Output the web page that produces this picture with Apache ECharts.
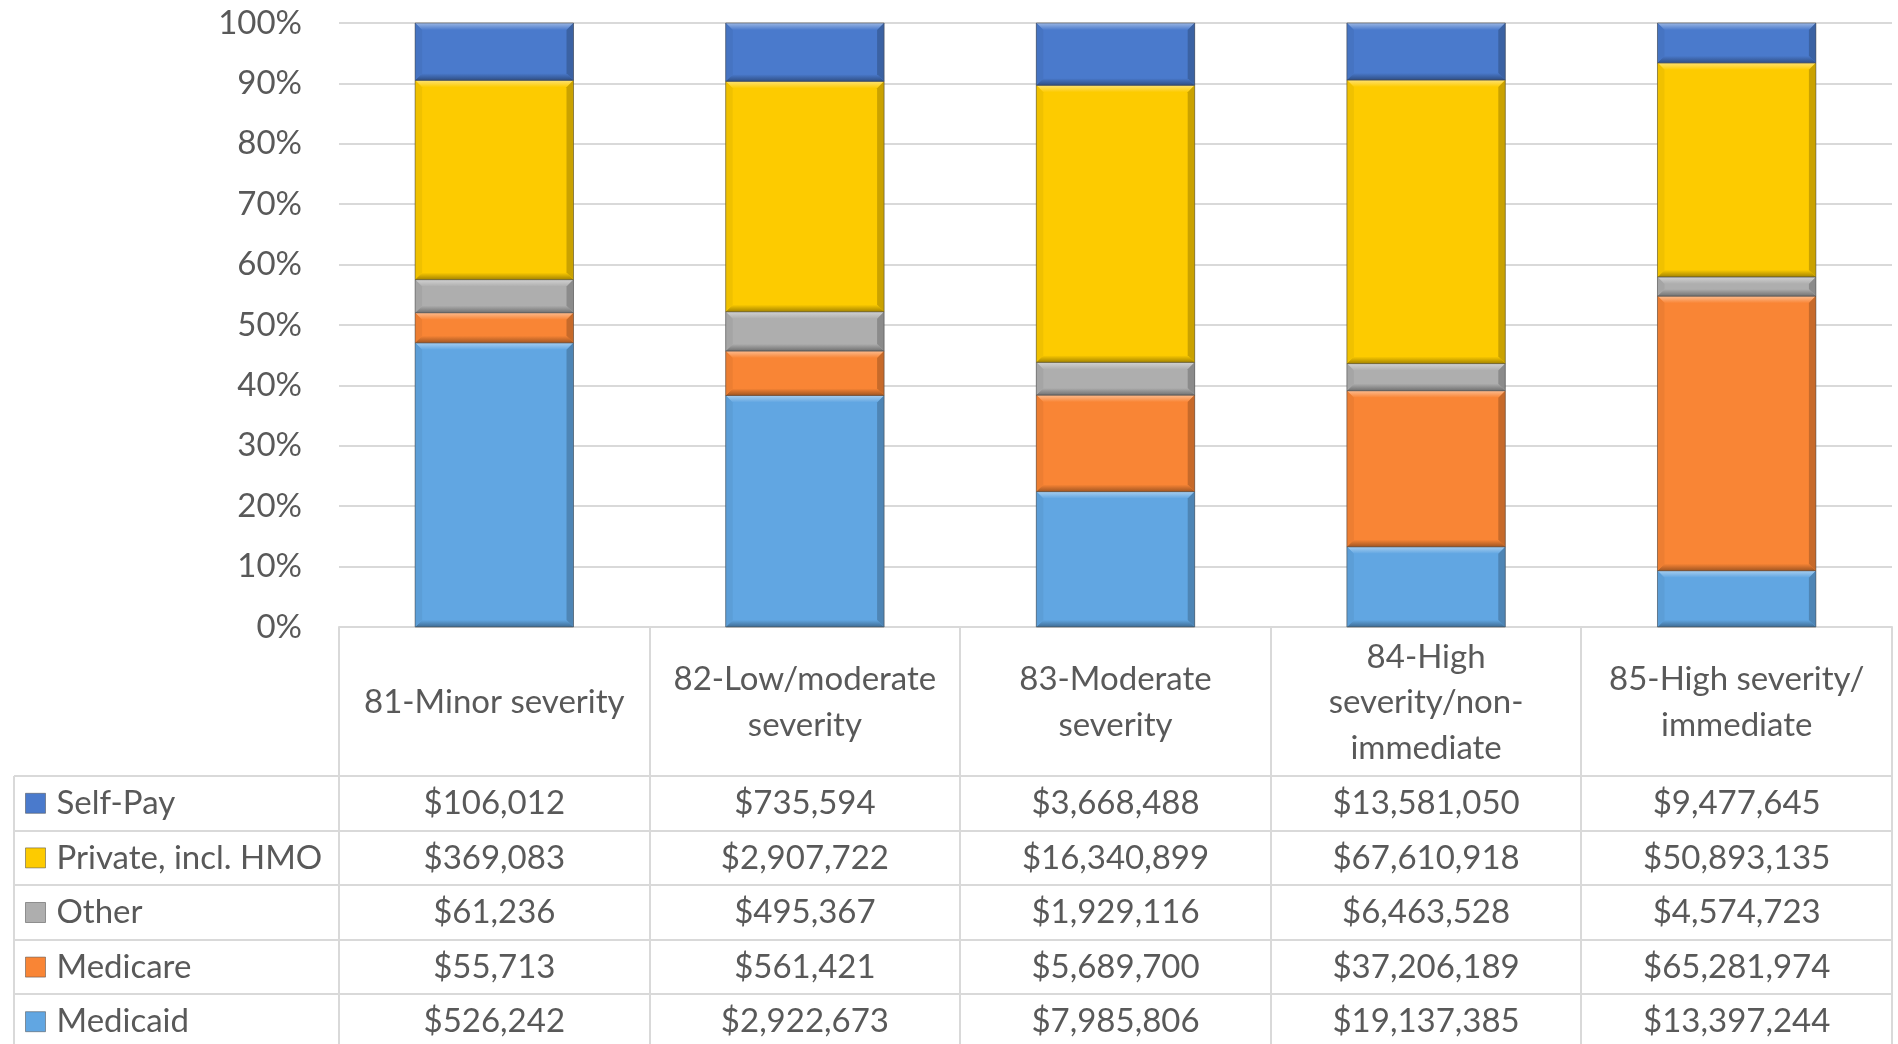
<!DOCTYPE html>
<html>
<head>
<meta charset="utf-8">
<script src="https://cdn.jsdelivr.net/npm/echarts@6/dist/echarts.min.js"></script>
<style>
  html, body { margin: 0; padding: 0; background: #ffffff; }
  #chart { width: 1898px; height: 1044px; }
</style>
</head>
<body>
<div id="chart"></div>
<script>
// ---------------- data ----------------
const categories = ['81-Minor severity', '82-Low/moderate severity', '83-Moderate severity', '84-High severity/non-immediate', '85-High severity/ immediate'];
const headerLabels = ['81-Minor severity', '82-Low/moderate\nseverity', '83-Moderate\nseverity', '84-High\nseverity/non-\nimmediate', '85-High severity/\nimmediate'];
const seriesNames = ['Self-Pay', 'Private, incl. HMO', 'Other', 'Medicare', 'Medicaid']; // table order (top to bottom)
const selfPay   = [106012, 735594, 3668488, 13581050, 9477645];
const privateIns = [369083, 2907722, 16340899, 67610918, 50893135];
const other     = [61236, 495367, 1929116, 6463528, 4574723];
const medicare  = [55713, 561421, 5689700, 37206189, 65281974];
const medicaid  = [526242, 2922673, 7985806, 19137385, 13397244];
const yTicks = [0, 10, 20, 30, 40, 50, 60, 70, 80, 90, 100];

// ---------------- styles ----------------
const colors = {
  'Self-Pay': '#4A7ACC',
  'Private, incl. HMO': '#FDCB00',
  'Other': '#AEAEAE',
  'Medicare': '#F98535',
  'Medicaid': '#61A6E2'
};
const TEXT = '#595959';
const LINE = '#D9D9D9';
const FONT = 'Lato, "Open Sans", sans-serif';
const FS = 33;

const W = 1898, H = 1044;
const GL = 339, GR = 1892, GT = 23, GB = 627;
const HEADER_BOTTOM = 776, ROW_H = 54.6;
const BAR_RATIO = 0.51;

const rowsByName = {
  'Self-Pay': selfPay, 'Private, incl. HMO': privateIns, 'Other': other, 'Medicare': medicare, 'Medicaid': medicaid
};
const stackOrder = ['Medicaid', 'Medicare', 'Other', 'Private, incl. HMO', 'Self-Pay']; // bottom to top

function fmtMoney(v) {
  return '$' + String(v).replace(/\B(?=(\d{3})+(?!\d))/g, ',');
}
function mix(hex, target, t) {
  const a = parseInt(hex.slice(1), 16), b = parseInt(target.slice(1), 16);
  const ar = a >> 16, ag = (a >> 8) & 255, ab = a & 255;
  const br = b >> 16, bg = (b >> 8) & 255, bb = b & 255;
  const r = Math.round(ar + (br - ar) * t), g = Math.round(ag + (bg - ag) * t), bl = Math.round(ab + (bb - ab) * t);
  return 'rgb(' + r + ',' + g + ',' + bl + ')';
}

// totals & cumulative percentages
const totals = categories.map((c, i) => stackOrder.reduce((s, n) => s + rowsByName[n][i], 0));
const cum = categories.map(() => 0);
const stackedData = {};
stackOrder.forEach(name => {
  stackedData[name] = categories.map((c, i) => {
    const start = cum[i];
    const pct = rowsByName[name][i] / totals[i] * 100;
    cum[i] += pct;
    return [i, start, cum[i]];
  });
});

function makeRender(base) {
  const light = mix(base, '#ffffff', 0.45);
  const dark = mix(base, '#000000', 0.35);
  const sideL = mix(base, '#000000', 0.05);
  const sideR = mix(base, '#000000', 0.2);
  return function (params, api) {
    const ci = api.value(0), a = api.value(1), b = api.value(2);
    const p0 = api.coord([ci, a]), p1 = api.coord([ci, b]);
    const w = api.size([1, 0])[0] * BAR_RATIO;
    const x = p0[0] - w / 2, y = p1[1], h = p0[1] - p1[1];
    const bv = Math.min(7, h / 2);
    const sv = Math.min(7, h / 2);
    return {
      type: 'group',
      children: [
        { type: 'rect', shape: { x: x, y: y, width: w, height: h }, style: { fill: base } },
        { type: 'polygon', shape: { points: [[x, y], [x + w, y], [x + w - sv, y + bv], [x + sv, y + bv]] },
          style: { fill: { type: 'linear', x: 0, y: 0, x2: 0, y2: 1, colorStops: [{ offset: 0, color: light }, { offset: 1, color: base }] } } },
        { type: 'polygon', shape: { points: [[x, y + h], [x + w, y + h], [x + w - sv, y + h - bv], [x + sv, y + h - bv]] },
          style: { fill: { type: 'linear', x: 0, y: 0, x2: 0, y2: 1, colorStops: [{ offset: 0, color: base }, { offset: 1, color: dark }] } } },
        { type: 'polygon', shape: { points: [[x, y], [x + sv, y + bv], [x + sv, y + h - bv], [x, y + h]] }, style: { fill: sideL } },
        { type: 'polygon', shape: { points: [[x + w, y], [x + w - sv, y + bv], [x + w - sv, y + h - bv], [x + w, y + h]] }, style: { fill: sideR } },
        { type: 'rect', shape: { x: x, y: y, width: w, height: h }, style: { fill: 'none', stroke: 'rgba(70,70,70,0.55)', lineWidth: 1 } }
      ]
    };
  };
}

const chart = echarts.init(document.getElementById('chart'), null, { renderer: 'canvas' });

const xAxes = [{
  type: 'category',
  data: categories,
  gridIndex: 0,
  position: 'bottom',
  axisLine: { show: true, lineStyle: { color: LINE, width: 2 } },
  axisTick: { show: false },
  axisLabel: {
    interval: 0,
    margin: (HEADER_BOTTOM + GB) / 2 - GB + 1,
    verticalAlign: 'middle',
    color: TEXT, fontFamily: FONT, fontSize: FS, lineHeight: 45.5,
    formatter: (v, i) => headerLabels[i]
  }
}];
seriesNames.forEach((name, r) => {
  xAxes.push({
    type: 'category',
    data: categories,
    gridIndex: 0,
    position: 'bottom',
    axisLine: { show: false },
    axisTick: { show: false },
    splitLine: { show: false },
    axisLabel: {
      interval: 0,
      margin: HEADER_BOTTOM + ROW_H * (r + 0.5) - GB,
      verticalAlign: 'middle',
      color: TEXT, fontFamily: FONT, fontSize: FS,
      formatter: (v, i) => fmtMoney(rowsByName[name][i])
    }
  });
});

const series = stackOrder.map(name => ({
  type: 'custom',
  name: name,
  xAxisIndex: 0,
  yAxisIndex: 0,
  data: stackedData[name],
  encode: { x: 0, y: [1, 2] },
  itemStyle: { color: colors[name] },
  renderItem: makeRender(colors[name])
}));

// table lines
const gLines = [];
const band = (GR - GL) / categories.length;
for (let k = 0; k <= categories.length; k++) {
  const x = Math.round(GL + k * band);
  gLines.push({ type: 'line', shape: { x1: x, y1: GB, x2: x, y2: H }, style: { stroke: LINE, lineWidth: 2 } });
}
gLines.push({ type: 'line', shape: { x1: 14, y1: HEADER_BOTTOM, x2: 14, y2: H }, style: { stroke: LINE, lineWidth: 2 } });
for (let r = 0; r < seriesNames.length; r++) {
  const y = Math.round(HEADER_BOTTOM + r * ROW_H);
  gLines.push({ type: 'line', shape: { x1: 14, y1: y, x2: GR, y2: y }, style: { stroke: LINE, lineWidth: 2 } });
}

chart.setOption({
  animation: false,
  backgroundColor: '#ffffff',
  textStyle: { fontFamily: FONT },
  grid: { left: GL, right: W - GR, top: GT, bottom: H - GB, containLabel: false, outerBoundsMode: 'none' },
  legend: {
    orient: 'vertical',
    left: 25,
    top: HEADER_BOTTOM + ROW_H / 2 - 20,
    padding: 0,
    icon: 'rect',
    itemWidth: 20,
    itemHeight: 20,
    itemGap: ROW_H - 40,
    data: seriesNames,
    selectedMode: false,
    textStyle: { color: TEXT, fontFamily: FONT, fontSize: FS, lineHeight: 40, padding: [0, 0, 0, 6] },
    itemStyle: { borderColor: 'rgba(70,70,70,0.5)', borderWidth: 1 }
  },
  xAxis: xAxes,
  yAxis: {
    type: 'value',
    min: 0, max: 100, interval: 10,
    axisLine: { show: false },
    axisTick: { show: false },
    splitLine: { show: true, lineStyle: { color: LINE, width: 2 } },
    axisLabel: {
      margin: 37,
      color: TEXT, fontFamily: FONT, fontSize: FS,
      formatter: v => (yTicks.indexOf(v) >= 0 ? v + '%' : '')
    }
  },
  series: series,
  graphic: gLines
});
</script>
</body>
</html>
